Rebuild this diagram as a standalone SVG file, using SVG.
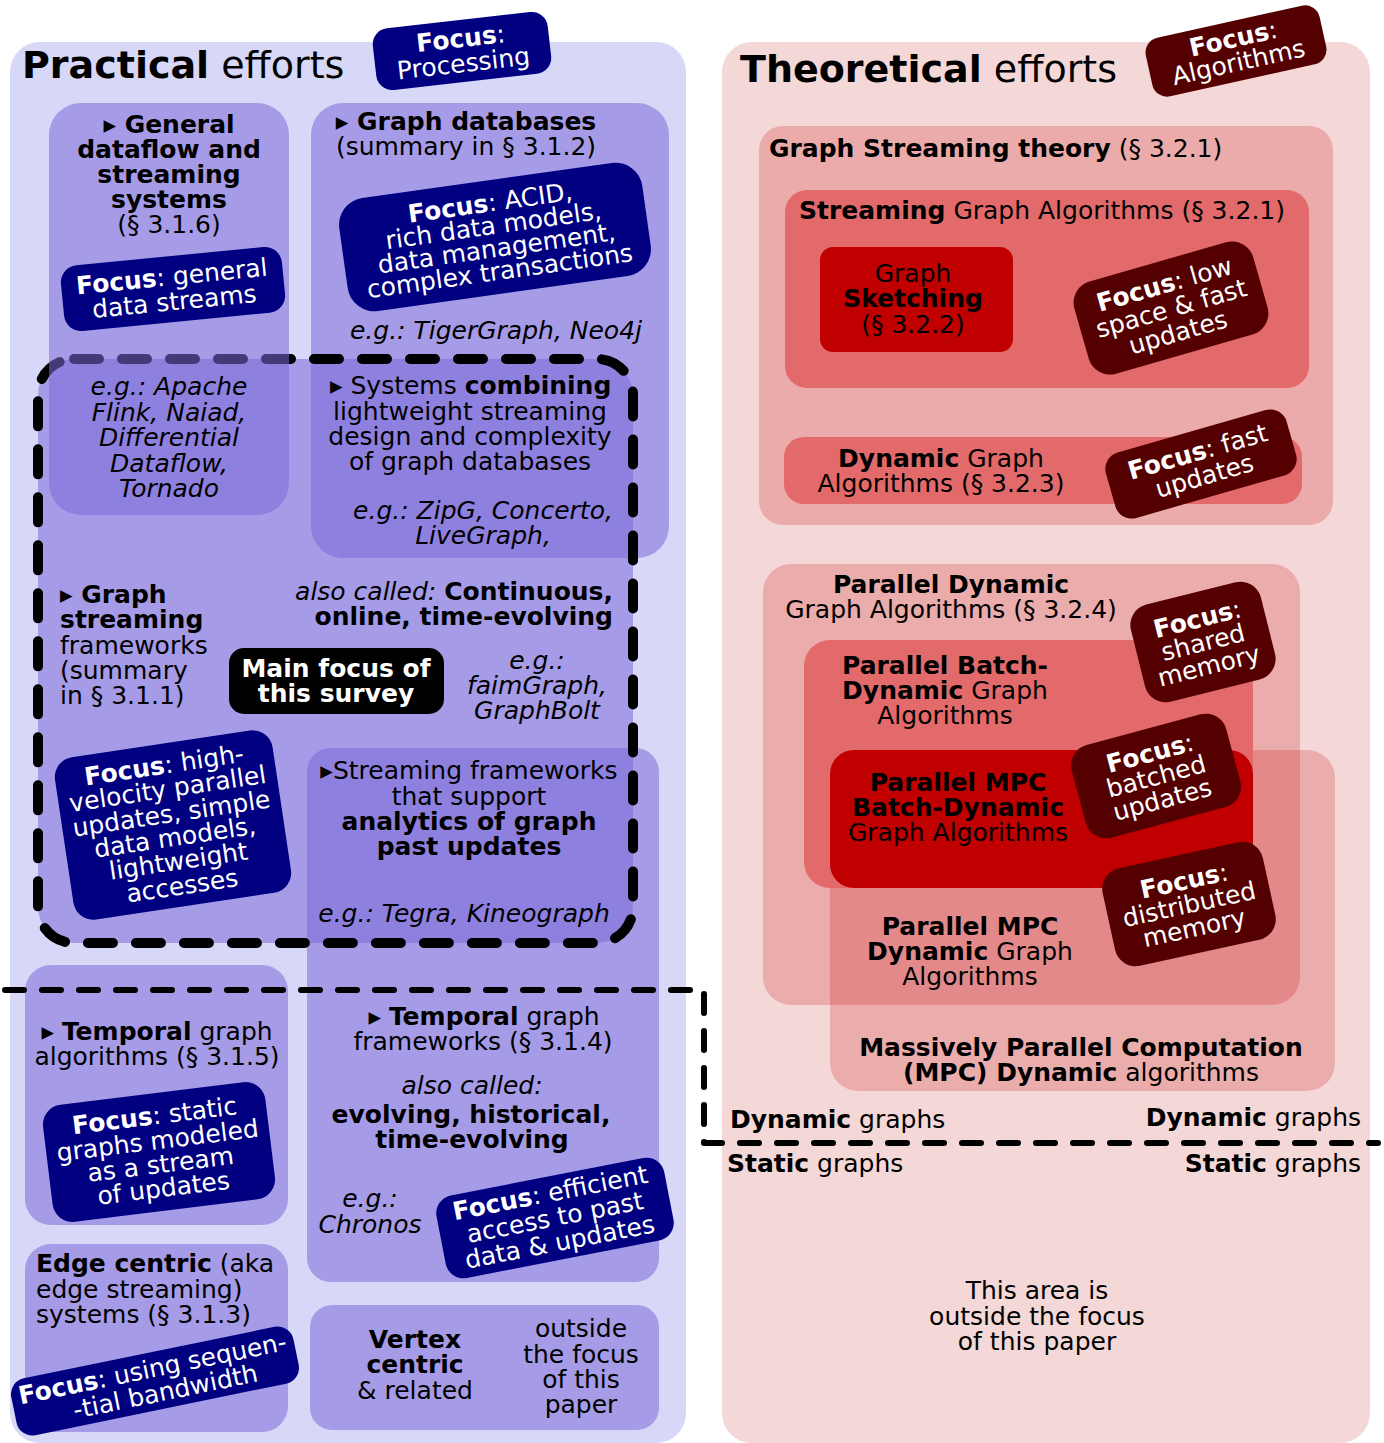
<svg xmlns="http://www.w3.org/2000/svg" width="1384" height="1443" viewBox="0 0 1384 1443">
<style>
.t{font-family:"DejaVu Sans","Liberation Sans",sans-serif;font-size:25px;fill:#000}
.h{font-size:38px}
.b{font-weight:bold}
.n{font-weight:normal}
.i{font-style:italic}
.w{fill:#fff}
.c{text-anchor:middle}
.e{text-anchor:end}
.pb{fill:#7b6ad8;fill-opacity:.55}
.bb{fill:#000080}
.br{fill:#550000}
.rt{fill:#c80000;fill-opacity:.2}
.dash1{fill:none;stroke:#000;stroke-width:10;stroke-dasharray:25 23;stroke-linecap:round}
.dash2{fill:none;stroke:#000;stroke-width:6;stroke-dasharray:19 18;stroke-linecap:round;stroke-linejoin:round}
</style>
<!-- Panels -->
<g id="practical-panel">
<rect x="10" y="42" width="676" height="1401" rx="30" fill="#d7d7f7"/>
<text class="t h" x="22" y="78"><tspan class="b">Practical</tspan> efforts</text>
</g>
<g id="theoretical-panel">
<rect x="722" y="42" width="648" height="1401" rx="30" fill="#f4d7d7"/>
<text class="t h" x="740" y="82"><tspan class="b">Theoretical</tspan> efforts</text>
</g>

<!-- Left side nodes -->
<g id="graph-streaming-frameworks">
<rect class="pb" x="38" y="359" width="595" height="584" rx="36"/>
<text class="t"><tspan x="60" y="603" class="b">▸ Graph</tspan><tspan x="60" y="628" class="b">streaming</tspan><tspan x="60" y="654">frameworks</tspan><tspan x="60" y="679">(summary</tspan><tspan x="60" y="704">in § 3.1.1)</tspan></text>
<text class="t e"><tspan x="613" y="600"><tspan class="i">also called:</tspan> <tspan class="b">Continuous,</tspan></tspan><tspan x="613" y="625" class="b">online, time-evolving</tspan></text>
<text class="t c i"><tspan x="537" y="669">e.g.:</tspan><tspan x="537" y="694">faimGraph,</tspan><tspan x="537" y="719">GraphBolt</tspan></text>
</g>
<g id="graph-databases">
<rect class="pb" x="311" y="103" width="358" height="455" rx="32"/>
<text class="t c"><tspan x="466" y="130" class="b">▸ Graph databases</tspan><tspan x="466" y="155">(summary in § 3.1.2)</tspan></text>
<text class="t c i" x="496" y="339">e.g.: TigerGraph, Neo4j</text>
</g>
<g id="systems-combining">
<text class="t"><tspan x="330" y="394">▸ Systems <tspan class="b">combining</tspan></tspan></text>
<text class="t c"><tspan x="470" y="420">lightweight streaming</tspan><tspan x="470" y="445">design and complexity</tspan><tspan x="470" y="470">of graph databases</tspan></text>
<text class="t c i"><tspan x="483" y="519">e.g.: ZipG, Concerto,</tspan><tspan x="483" y="544">LiveGraph,</tspan></text>
</g>
<g id="streaming-analytics">
<rect class="pb" x="307" y="748" width="352" height="534" rx="24"/>
<text class="t c"><tspan x="469" y="779">▸Streaming frameworks</tspan><tspan x="469" y="805">that support</tspan><tspan x="469" y="830" class="b">analytics of graph</tspan><tspan x="469" y="855" class="b">past updates</tspan></text>
<text class="t c i" x="464" y="922">e.g.: Tegra, Kineograph</text>
</g>
<g id="main-focus-boundary">
<rect class="dash1" x="38" y="359" width="595" height="584" rx="36"/>
</g>
<g id="main-focus">
<rect x="229" y="648" width="215" height="66" rx="15" fill="#000"/>
<text class="t b c w"><tspan x="336" y="677">Main focus of</tspan><tspan x="336" y="702">this survey</tspan></text>
</g>
<g id="general-dataflow">
<rect class="pb" x="49" y="103" width="240" height="412" rx="32"/>
<text class="t b c"><tspan x="169" y="133">▸ General</tspan><tspan x="169" y="158">dataflow and</tspan><tspan x="169" y="183">streaming</tspan><tspan x="169" y="208">systems</tspan><tspan x="169" y="233" class="n">(§ 3.1.6)</tspan></text>
<text class="t c i"><tspan x="169" y="395">e.g.: Apache</tspan><tspan x="169" y="421">Flink, Naiad,</tspan><tspan x="169" y="446">Differential</tspan><tspan x="169" y="472">Dataflow,</tspan><tspan x="169" y="497">Tornado</tspan></text>
</g>
<g id="temporal-algorithms">
<rect class="pb" x="25" y="965" width="263" height="260" rx="26"/>
<text class="t c"><tspan x="157" y="1040">▸ <tspan class="b">Temporal</tspan> graph</tspan><tspan x="157" y="1065">algorithms (§ 3.1.5)</tspan></text>
</g>
<g id="edge-centric">
<rect class="pb" x="25" y="1244" width="263" height="188" rx="26"/>
<text class="t"><tspan x="36" y="1272"><tspan class="b">Edge centric</tspan> (aka</tspan><tspan x="36" y="1298">edge streaming)</tspan><tspan x="36" y="1323">systems (§ 3.1.3)</tspan></text>
</g>
<g id="temporal-frameworks">
<text class="t c"><tspan x="484" y="1025">▸ <tspan class="b">Temporal</tspan> graph</tspan><tspan x="483" y="1050">frameworks (§ 3.1.4)</tspan><tspan x="472" y="1094" class="i">also called:</tspan><tspan x="471" y="1123" class="b">evolving, historical,</tspan><tspan x="472" y="1148" class="b">time-evolving</tspan></text>
<text class="t c i"><tspan x="370" y="1207">e.g.:</tspan><tspan x="370" y="1233">Chronos</tspan></text>
</g>
<g id="vertex-centric">
<rect class="pb" x="310" y="1305" width="349" height="125" rx="22"/>
<text class="t c b"><tspan x="415" y="1348">Vertex</tspan><tspan x="415" y="1373">centric</tspan><tspan x="415" y="1399" class="n">&amp; related</tspan></text>
<text class="t c"><tspan x="581" y="1337">outside</tspan><tspan x="581" y="1363">the focus</tspan><tspan x="581" y="1388">of this</tspan><tspan x="581" y="1413">paper</tspan></text>
</g>

<!-- Right side nodes -->
<g id="graph-streaming-theory">
<rect x="759" y="126" width="574" height="399" rx="24" fill="#ebabab"/>
<text class="t" x="769" y="157"><tspan class="b">Graph Streaming theory</tspan> (§ 3.2.1)</text>
</g>
<g id="streaming-graph-algorithms">
<rect x="785" y="190" width="524" height="198" rx="22" fill="#e26a6a"/>
<text class="t" x="799" y="219"><tspan class="b">Streaming</tspan> Graph Algorithms (§ 3.2.1)</text>
</g>
<g id="graph-sketching">
<rect x="820" y="247" width="193" height="105" rx="13" fill="#c00000"/>
<text class="t c"><tspan x="913" y="282">Graph</tspan><tspan x="913" y="307" class="b">Sketching</tspan><tspan x="913" y="333">(§ 3.2.2)</tspan></text>
</g>
<g id="dynamic-graph-algorithms">
<rect x="784" y="437" width="518" height="67" rx="20" fill="#e26a6a"/>
<text class="t c"><tspan x="941" y="467"><tspan class="b">Dynamic</tspan> Graph</tspan><tspan x="941" y="492">Algorithms (§ 3.2.3)</tspan></text>
</g>
<g id="parallel-dynamic">
<rect class="rt" x="763" y="564" width="537" height="441" rx="28"/>
<text class="t c"><tspan x="951" y="593" class="b">Parallel Dynamic</tspan><tspan x="951" y="618">Graph Algorithms (§ 3.2.4)</tspan></text>
</g>
<g id="mpc-dynamic">
<rect class="rt" x="830" y="750" width="505" height="341" rx="28"/>
<text class="t c"><tspan x="1081" y="1056" class="b">Massively Parallel Computation</tspan><tspan x="1081" y="1081"><tspan class="b">(MPC) Dynamic</tspan> algorithms</tspan></text>
<text class="t c"><tspan x="970" y="935" class="b">Parallel MPC</tspan><tspan x="970" y="960"><tspan class="b">Dynamic</tspan> Graph</tspan><tspan x="970" y="985">Algorithms</tspan></text>
</g>
<g id="parallel-batch-dynamic">
<rect x="804" y="640" width="449" height="248" rx="26" fill="#e26a6a"/>
<text class="t c"><tspan x="945" y="674" class="b">Parallel Batch-</tspan><tspan x="945" y="699"><tspan class="b">Dynamic</tspan> Graph</tspan><tspan x="945" y="724">Algorithms</tspan></text>
</g>
<g id="mpc-batch-dynamic">
<rect x="830" y="750" width="423" height="138" rx="24" fill="#c00000"/>
<text class="t c"><tspan x="958" y="791" class="b">Parallel MPC</tspan><tspan x="958" y="816" class="b">Batch-Dynamic</tspan><tspan x="958" y="841">Graph Algorithms</tspan></text>
</g>
<g id="labels-graph-kind">
<text class="t" x="730" y="1128"><tspan class="b">Dynamic</tspan> graphs</text>
<text class="t e" x="1361" y="1126"><tspan class="b">Dynamic</tspan> graphs</text>
<text class="t" x="727" y="1172"><tspan class="b">Static</tspan> graphs</text>
<text class="t e" x="1361" y="1172"><tspan class="b">Static</tspan> graphs</text>
<text class="t c"><tspan x="1037" y="1299">This area is</tspan><tspan x="1037" y="1325">outside the focus</tspan><tspan x="1037" y="1350">of this paper</tspan></text>
</g>

<!-- Boundaries -->
<g id="connectors">
<path class="dash2" d="M5,990 H704 V1143 H1378"/>
</g>

<!-- Focus badges -->
<g id="focus-processing" transform="translate(462 51) rotate(-6.5)">
<rect class="bb" x="-88" y="-31" width="176" height="62" rx="16"/>
<text class="t c w"><tspan x="0" y="-4" class="b">Focus<tspan class="n">:</tspan></tspan><tspan x="0" y="21">Processing</tspan></text>
</g>
<g id="focus-algorithms" transform="translate(1236 51) rotate(-12.5)">
<rect class="br" x="-89" y="-30" width="178" height="60" rx="15"/>
<text class="t c w"><tspan x="0" y="-4" class="b">Focus<tspan class="n">:</tspan></tspan><tspan x="0" y="20">Algorithms</tspan></text>
</g>
<g id="focus-general" transform="translate(173 289) rotate(-5.6)">
<rect class="bb" x="-111" y="-33" width="222" height="66" rx="17"/>
<text class="t c w"><tspan x="0" y="-4"><tspan class="b">Focus</tspan>: general</tspan><tspan x="0" y="21">data streams</tspan></text>
</g>
<g id="focus-acid" transform="translate(495 237) rotate(-8)">
<rect class="bb" x="-153" y="-57" width="306" height="114" rx="27"/>
<text class="t c w"><tspan x="0" y="-26"><tspan class="b">Focus</tspan>: ACID,</tspan><tspan x="0" y="-3">rich data models,</tspan><tspan x="0" y="20">data management,</tspan><tspan x="0" y="43">complex transactions</tspan></text>
</g>
<g id="focus-high-velocity" transform="translate(173 825) rotate(-8.5)">
<rect class="bb" x="-110" y="-82" width="220" height="164" rx="20"/>
<text class="t c w"><tspan x="0" y="-52"><tspan class="b">Focus</tspan>: high-</tspan><tspan x="0" y="-28">velocity parallel</tspan><tspan x="0" y="-3">updates, simple</tspan><tspan x="0" y="21">data models,</tspan><tspan x="0" y="45">lightweight</tspan><tspan x="0" y="70">accesses</tspan></text>
</g>
<g id="focus-static" transform="translate(159 1152) rotate(-7)">
<rect class="bb" x="-112" y="-59" width="224" height="118" rx="20"/>
<text class="t c w"><tspan x="0" y="-28"><tspan class="b">Focus</tspan>: static</tspan><tspan x="0" y="-3">graphs modeled</tspan><tspan x="0" y="21">as a stream</tspan><tspan x="0" y="45">of updates</tspan></text>
</g>
<g id="focus-sequential" transform="translate(155 1381) rotate(-11.6)">
<rect class="bb" x="-144" y="-29" width="288" height="58" rx="16"/>
<text class="t c w"><tspan x="0" y="-4"><tspan class="b">Focus</tspan>: using sequen-</tspan><tspan x="8" y="21">-tial bandwidth</tspan></text>
</g>
<g id="focus-efficient" transform="translate(555 1218) rotate(-11)">
<rect class="bb" x="-116" y="-42" width="232" height="84" rx="18"/>
<text class="t c w"><tspan x="0" y="-17"><tspan class="b">Focus</tspan>: efficient</tspan><tspan x="0" y="8">access to past</tspan><tspan x="0" y="33">data &amp; updates</tspan></text>
</g>
<g id="focus-low-space" transform="translate(1171 308) rotate(-16)">
<rect class="br" x="-93" y="-48" width="186" height="96" rx="22"/>
<text class="t c w"><tspan x="0" y="-16"><tspan class="b">Focus</tspan>: low</tspan><tspan x="0" y="9">space &amp; fast</tspan><tspan x="0" y="34">updates</tspan></text>
</g>
<g id="focus-fast-updates" transform="translate(1201 464) rotate(-16)">
<rect class="br" x="-94" y="-34" width="188" height="68" rx="17"/>
<text class="t c w"><tspan x="0" y="-4"><tspan class="b">Focus</tspan>: fast</tspan><tspan x="0" y="21">updates</tspan></text>
</g>
<g id="focus-shared-memory" transform="translate(1203 642) rotate(-14)">
<rect class="br" x="-67" y="-50" width="134" height="100" rx="21"/>
<text class="t c w"><tspan x="0" y="-15" class="b">Focus<tspan class="n">:</tspan></tspan><tspan x="0" y="9">shared</tspan><tspan x="0" y="33">memory</tspan></text>
</g>
<g id="focus-batched" transform="translate(1156 776) rotate(-15)">
<rect class="br" x="-80" y="-48" width="160" height="96" rx="21"/>
<text class="t c w"><tspan x="0" y="-15" class="b">Focus<tspan class="n">:</tspan></tspan><tspan x="0" y="9">batched</tspan><tspan x="0" y="33">updates</tspan></text>
</g>
<g id="focus-distributed" transform="translate(1189 904) rotate(-12.3)">
<rect class="br" x="-82" y="-50" width="164" height="100" rx="21"/>
<text class="t c w"><tspan x="0" y="-15" class="b">Focus<tspan class="n">:</tspan></tspan><tspan x="0" y="9">distributed</tspan><tspan x="0" y="33">memory</tspan></text>
</g>
</svg>
